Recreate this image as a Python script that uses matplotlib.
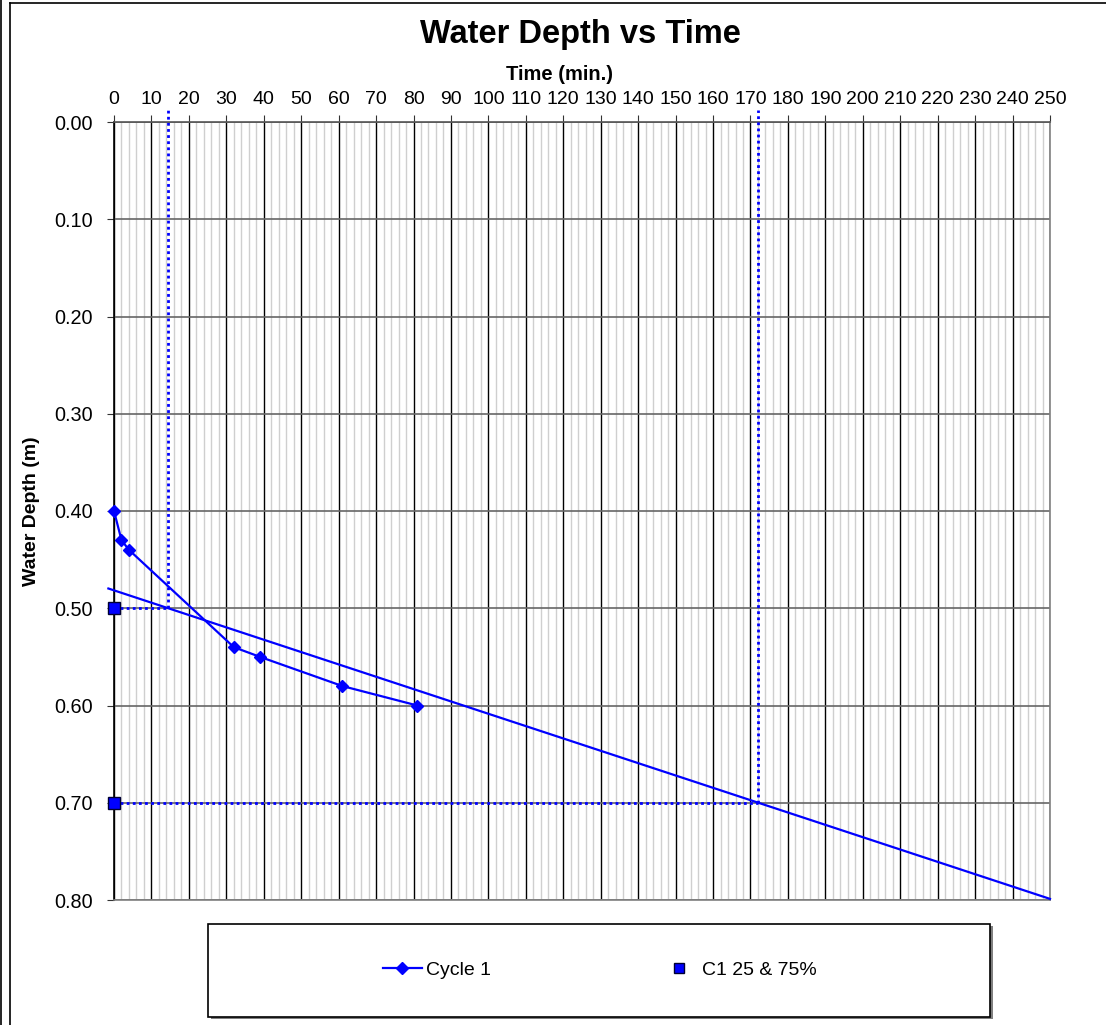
import numpy as np
import matplotlib
matplotlib.use("Agg")
import matplotlib.pyplot as plt
from matplotlib.ticker import MultipleLocator, FormatStrFormatter
from matplotlib.patches import Rectangle
from matplotlib.lines import Line2D

plt.rcParams['font.family'] = ['Liberation Sans', 'DejaVu Sans']

# Cycle 1 readings
time_min = [0, 2, 4, 32, 39, 61, 81]
depth_m = [0.40, 0.43, 0.44, 0.54, 0.55, 0.58, 0.60]

# 25% and 75% depths with the times they are reached
pct_depth = [0.50, 0.70]
pct_time = [14.5, 172.1]

W, H = 1106, 1025
fig = plt.figure(figsize=(W / 100, H / 100), dpi=100)
ax = fig.add_axes([114 / W, 1 - 900 / H, 936 / W, 778 / H])

ax.set_xlim(0, 250)
ax.set_ylim(0.8, 0.0)
ax.xaxis.tick_top()
ax.xaxis.set_major_locator(MultipleLocator(10))
ax.xaxis.set_minor_locator(MultipleLocator(2))
ax.yaxis.set_major_locator(MultipleLocator(0.1))
ax.yaxis.set_major_formatter(FormatStrFormatter('%.2f'))
ax.tick_params(axis='x', which='major', length=5, pad=5, labelsize=14, color='#333333')
ax.tick_params(axis='y', which='major', length=5, pad=10, labelsize=14.3, color='#333333')
ax.tick_params(which='minor', length=0)

ax.set_axisbelow(True)
ax.grid(which='minor', axis='x', color='#cfcfcf', lw=1)
ax.grid(which='major', axis='x', color='black', lw=1)
ax.grid(which='major', axis='y', color='#666666', lw=1.2)

ax.spines['left'].set_color('black')
ax.spines['top'].set_color('#555555')
ax.spines['right'].set_color('#808080')
ax.spines['bottom'].set_color('#808080')
for s in ax.spines.values():
    s.set_linewidth(1.2)

# trend line through the 25% and 75% points, extended to the edge
slope = (pct_depth[1] - pct_depth[0]) / (pct_time[1] - pct_time[0])
tx = np.array([-1.5, 250])
ty = pct_depth[0] + slope * (tx - pct_time[0])
ax.plot(tx, ty, color='#0000ff', lw=1.6, clip_on=False, zorder=3)

# dotted guides to the axes
for t, d in zip(pct_time, pct_depth):
    ax.plot([0, t], [d, d], color='#0000ff', lw=2, ls=(0, (1, 1.2)), zorder=3)
    ax.plot([t, t], [d, -0.012], color='#0000ff', lw=2, ls=(0, (1, 1.2)),
            clip_on=False, zorder=3)

ax.plot(time_min, depth_m, color='#0000ff', lw=1.6, marker='D', ms=6.5,
        mfc='#0000ff', mec='#0000ff', clip_on=False, zorder=4)
ax.plot([0] * len(pct_depth), pct_depth, ls='none', marker='s', ms=8,
        mfc='#0000ff', mec='#000033', mew=1, clip_on=False, zorder=5)

fig.text(580 / W, 1 - 35 / H, 'Water Depth vs Time', ha='center', va='center',
         fontsize=23.5, fontweight='bold')
fig.text(560 / W, 1 - 75 / H, 'Time (min.)', ha='center', va='center',
         fontsize=14.5, fontweight='bold')
fig.text(32 / W, 1 - 511 / H, 'Water Depth (m)', ha='center', va='center',
         rotation=90, fontsize=14, fontweight='bold')

# legend box
fig.patches.append(Rectangle((211 / W, 1 - 1019 / H), 782 / W, 93 / H,
                             transform=fig.transFigure, facecolor='#808080',
                             edgecolor='none', zorder=1))
fig.patches.append(Rectangle((208 / W, 1 - 1017 / H), 782 / W, 93 / H,
                             transform=fig.transFigure, facecolor='white',
                             edgecolor='black', lw=1.2, zorder=2))
handles = [
    Line2D([], [], color='#0000ff', lw=1.6, marker='D', ms=6.5),
    Line2D([], [], ls='none', marker='s', ms=7, mfc='#0000ff', mec='#000033'),
]
fig.legend(handles, ['Cycle 1', 'C1 25 & 75%'], loc='center',
           bbox_to_anchor=(600 / W, 1 - 970 / H), ncol=2, frameon=False,
           fontsize=14, handlelength=2, handletextpad=0.2,
           columnspacing=8.7)

# outer frame lines
fig.add_artist(Line2D([1 / W, 1 / W], [0, 1], color='black', lw=1.2))
fig.add_artist(Line2D([10 / W, 10 / W], [0, 1 - 3 / H], color='black', lw=1.2))
fig.add_artist(Line2D([10 / W, 1], [1 - 3 / H, 1 - 3 / H], color='black', lw=1.2))

fig.savefig('out.png', dpi=100)
